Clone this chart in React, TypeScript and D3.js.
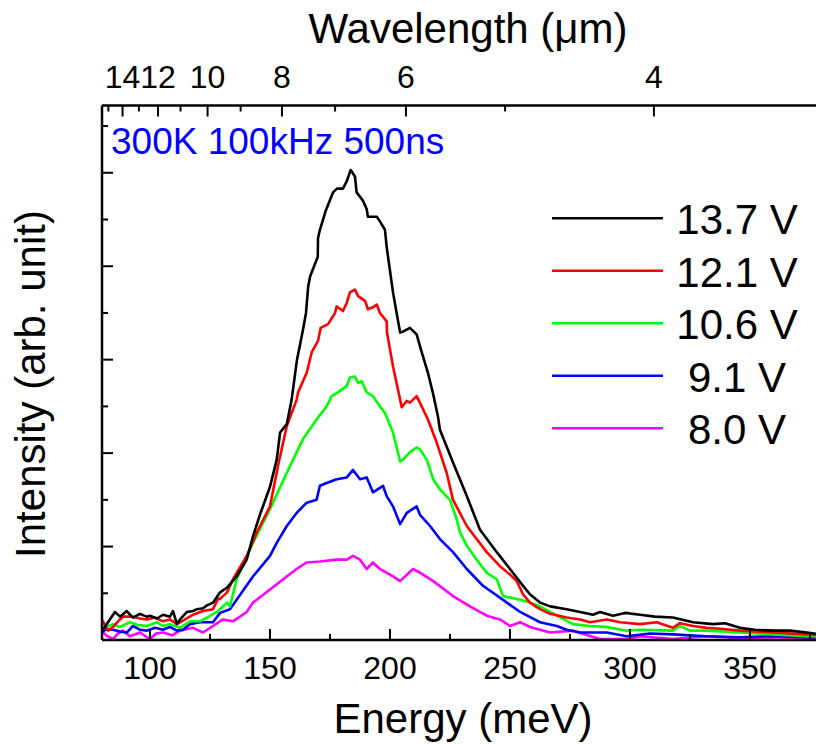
import React from 'react';
import * as d3 from 'd3';

type Pt = [number, number];

const seriesLabels = ['13.7 V', '12.1 V', '10.6 V', '9.1 V', '8.0 V'];
const seriesColors = ['#000000', '#ff0000', '#00ff00', '#0000ff', '#ff00ff'];

const v137: Pt[] = [[79.6,0.08],[85.4,0.30],[87.5,0.25],[90.3,0.31],[92.9,0.24],[95.8,0.28],[98.6,0.25],[100,0.26],[102.9,0.23],[105.4,0.27],[108.3,0.25],[109.6,0.31],[111.25,0.17],[112.5,0.22],[115.4,0.30],[117.9,0.31],[119.6,0.33],[122.1,0.34],[123.75,0.37],[126.25,0.40],[129.2,0.51],[132.1,0.56],[136.1,0.68],[140.3,0.86],[142.9,1.11],[145.8,1.34],[150,1.64],[152.8,1.93],[154.2,2.22],[157,2.31],[159,2.57],[161.25,3.0],[163.75,3.32],[165,3.5],[165.9,3.78],[166.7,3.89],[169.9,4.1],[170,4.3],[170.8,4.39],[173.3,4.6],[176.25,4.79],[177.9,4.83],[180.4,4.83],[182,4.91],[183.6,5.03],[185.4,4.96],[186.1,4.79],[188.75,4.70],[190.3,4.61],[190.8,4.53],[194.5,4.53],[195.8,4.48],[197.9,4.39],[198.6,4.21],[201.25,3.72],[204.2,3.29],[205.4,3.30],[208.3,3.34],[211.1,3.27],[213.2,3.08],[215.8,2.86],[218,2.63],[220,2.39],[220.8,2.25],[226.25,1.9],[232,1.54],[237.5,1.18],[244.5,0.94],[250,0.76],[254.2,0.62],[258.3,0.49],[262.5,0.40],[266.7,0.36],[273.6,0.33],[279.2,0.30],[284.6,0.27],[287.5,0.30],[292.9,0.26],[297.9,0.29],[304.2,0.27],[310.4,0.25],[317.9,0.24],[326.25,0.19],[334.6,0.17],[339.6,0.18],[345.8,0.13],[352,0.11],[359.6,0.10],[366.7,0.10],[373.75,0.08],[379.2,0.06]];

const v121: Pt[] = [[79.6,0.17],[80.4,0.20],[82.5,0.10],[84.6,0.14],[87.5,0.22],[88.75,0.25],[92.9,0.25],[95.8,0.23],[98.75,0.22],[102.1,0.24],[105.4,0.20],[108.3,0.22],[111.25,0.17],[114.6,0.22],[117.9,0.27],[122.1,0.31],[126.25,0.33],[128.3,0.44],[129.2,0.44],[132.1,0.51],[134.6,0.65],[140.3,0.90],[144.5,1.15],[150,1.43],[153.3,1.86],[157,2.29],[161.1,2.57],[161.7,2.65],[165.3,2.86],[167.4,3.08],[170,3.20],[171.1,3.34],[174.2,3.38],[177.1,3.50],[177.8,3.57],[180.4,3.52],[182,3.61],[183.3,3.72],[185.4,3.75],[186.7,3.68],[189.6,3.63],[190.8,3.54],[192.9,3.56],[194.5,3.59],[195.8,3.50],[198.6,3.41],[198.75,3.29],[201.25,2.93],[203.3,2.68],[204.9,2.49],[207,2.56],[208.3,2.54],[211.1,2.61],[213.2,2.50],[215.8,2.36],[219.5,2.11],[223.6,1.79],[226.25,1.50],[232,1.22],[236.1,1.08],[240.3,0.94],[245.8,0.79],[250,0.70],[252.8,0.63],[255.4,0.49],[258.3,0.40],[262.5,0.33],[266.7,0.28],[273.6,0.24],[279.2,0.22],[283.3,0.19],[290.3,0.22],[295.8,0.19],[304.2,0.17],[311.1,0.19],[317.9,0.13],[320.8,0.18],[326.25,0.15],[331.9,0.13],[337.5,0.12],[345.8,0.10],[359.6,0.08],[373.75,0.06],[379.2,0.05]];

const v106: Pt[] = [[79.6,0.10],[81.7,0.14],[84.6,0.17],[87.5,0.14],[91.7,0.19],[95,0.16],[98.75,0.15],[102.9,0.19],[105.4,0.15],[108.3,0.17],[112.5,0.13],[116.7,0.20],[120.8,0.20],[123.75,0.24],[127.9,0.30],[132.1,0.40],[133.3,0.36],[136.1,0.65],[142.9,1.04],[150,1.40],[157,1.79],[163.75,2.15],[169.4,2.36],[173.6,2.50],[175.7,2.61],[178.3,2.65],[182,2.72],[183.3,2.81],[185.4,2.82],[186.7,2.75],[188.2,2.77],[190.3,2.65],[192.9,2.61],[195.8,2.50],[197.9,2.43],[201.25,2.22],[204.2,1.91],[205.4,1.93],[208.3,2.01],[211.1,2.06],[212.5,2.04],[215.3,1.93],[218,1.72],[220.8,1.61],[225,1.50],[227.8,1.29],[229.2,1.15],[232,1.01],[236.1,0.86],[240.3,0.72],[244.5,0.65],[247.1,0.47],[254.2,0.43],[258.3,0.40],[262.5,0.36],[269.5,0.26],[276.25,0.17],[283.3,0.15],[290.3,0.14],[298.6,0.10],[304.2,0.11],[317.9,0.10],[320.8,0.15],[325,0.10],[331.9,0.10],[345.8,0.08],[359.6,0.06],[373.75,0.04],[379.2,0.04]];

const v91: Pt[] = [[79.5,0.08],[81.7,0.11],[84.6,0.11],[87.5,0.09],[90.3,0.08],[92.9,0.15],[95.8,0.11],[98.6,0.10],[102.1,0.13],[105.4,0.11],[108.3,0.14],[111.25,0.10],[113.75,0.11],[116.7,0.17],[120.8,0.19],[126.25,0.19],[129.2,0.29],[133.3,0.33],[136.1,0.43],[142.9,0.68],[150,0.90],[152.8,1.04],[157,1.22],[161.1,1.36],[165.3,1.47],[169.4,1.50],[170.8,1.65],[173.6,1.68],[177.8,1.72],[182,1.74],[184.6,1.82],[187.5,1.72],[190.3,1.74],[192.9,1.58],[197.1,1.65],[198.6,1.54],[201.25,1.43],[204.2,1.24],[207,1.36],[211.1,1.43],[212.5,1.34],[216.7,1.22],[220.8,1.08],[226.25,0.94],[232,0.76],[238.75,0.58],[247.1,0.43],[254.2,0.30],[262.5,0.19],[269.5,0.15],[273.6,0.11],[279.2,0.08],[290.3,0.08],[298.6,0.04],[308.3,0.07],[317.9,0.06],[331.9,0.04],[345.8,0.03],[359.6,0.04],[373.75,0.03],[379.2,0.03]];

const v80: Pt[] = [[79.5,0.11],[81.7,0.05],[84.6,0.01],[86.7,0.07],[88.75,0.10],[91.7,0.04],[95.8,0.08],[100,0.01],[102.5,0.07],[105.4,0.08],[109.2,0.05],[112.5,0.10],[117.9,0.13],[122.1,0.08],[126.25,0.15],[130.4,0.22],[134.6,0.20],[140.3,0.30],[142.9,0.40],[150,0.54],[157,0.68],[161.1,0.76],[165.3,0.83],[170.8,0.84],[177.8,0.86],[182,0.86],[184.6,0.90],[187.5,0.86],[190.3,0.76],[192.9,0.83],[195.8,0.76],[201.25,0.68],[204.2,0.63],[209.6,0.76],[212.5,0.72],[218,0.63],[226.25,0.47],[233.3,0.36],[240.3,0.26],[245.8,0.22],[250,0.15],[254.2,0.19],[258.3,0.14],[266.7,0.08],[276.25,0.10],[287.5,0.01],[298.6,0.01],[304.2,0.04],[317.9,0.01],[331.9,0.04],[345.8,0.02],[359.6,0.03],[373.75,0.02],[379.2,0.02]];

const seriesData: Pt[][] = [v137, v121, v106, v91, v80];

const energyTicks = [100, 150, 200, 250, 300, 350];
const energyMinor = [125, 175, 225, 275, 325, 375];
const wlTicks = [4, 6, 8, 10, 12, 14];
const wlMinor = [5, 7, 9, 11, 13, 15];
const yMajor = [1, 2, 3, 4, 5];
const yMinor = [0.5, 1.5, 2.5, 3.5, 4.5, 5.5];

const FONT = '"Liberation Sans", Arial, Helvetica, sans-serif';

export default function App() {
  const W = 816, H = 744;
  const x = d3.scaleLinear().domain([80, 380]).range([102, 822]);
  const y = d3.scaleLinear().domain([0, 5.72]).range([640, 105.5]);
  const line = d3.line<Pt>().x(d => x(d[0])).y(d => y(d[1]));
  const wlToX = (l: number) => x(1239.84 / l);
  const [x0, x1] = x.range();
  const [yb, yt] = y.range();
  const legendY = d3.scaleLinear().domain([0, 4]).range([218.3, 428.3]);

  return (
    <svg width={W} height={H} style={{ position: 'absolute', left: 0, top: 0, background: '#fff' }} fontFamily={FONT}>
      <defs>
        <clipPath id="plotClip">
          <rect x={x0} y={yt} width={x1 - x0} height={yb - yt} />
        </clipPath>
      </defs>
      <g clipPath="url(#plotClip)">
        {seriesData.map((d, i) => i).reverse().map(i => (
          <path key={i} d={line(seriesData[i]) || ''} fill="none" stroke={seriesColors[i]} strokeWidth={2.6} strokeLinejoin="round" />
        ))}
      </g>
      {/* axes frame */}
      <g stroke="#000" strokeWidth={2.5} fill="none">
        <line x1={x0} y1={yb} x2={x1} y2={yb} />
        <line x1={x0} y1={yt} x2={x1} y2={yt} />
        <line x1={x0} y1={yt} x2={x0} y2={yb} />
        <line x1={x1} y1={yt} x2={x1} y2={yb} />
      </g>
      {/* bottom ticks */}
      <g stroke="#000" strokeWidth={2}>
        {energyTicks.map(t => <line key={'bm' + t} x1={x(t)} x2={x(t)} y1={yb} y2={yb - 11} />)}
        {energyMinor.map(t => <line key={'bn' + t} x1={x(t)} x2={x(t)} y1={yb} y2={yb - 6} />)}
        {wlTicks.map(t => <line key={'tm' + t} x1={wlToX(t)} x2={wlToX(t)} y1={yt} y2={yt + 11} />)}
        {wlMinor.map(t => <line key={'tn' + t} x1={wlToX(t)} x2={wlToX(t)} y1={yt} y2={yt + 6} />)}
        {yMajor.map(t => <line key={'ym' + t} x1={x0} x2={x0 + 11} y1={y(t)} y2={y(t)} />)}
        {yMinor.map(t => <line key={'yn' + t} x1={x0} x2={x0 + 6} y1={y(t)} y2={y(t)} />)}
      </g>
      <g fontSize={32} textAnchor="middle" fill="#000">
        {energyTicks.map(t => <text key={'bl' + t} x={x(t)} y={679}>{t}</text>)}
        {wlTicks.map(t => <text key={'tl' + t} x={wlToX(t)} y={88}>{t}</text>)}
      </g>
      <text x={463} y={733} fontSize={42} textAnchor="middle">Energy (meV)</text>
      <text x={468} y={43} fontSize={42} textAnchor="middle">Wavelength (μm)</text>
      <text transform="translate(45,384) rotate(-90)" fontSize={42} textAnchor="middle">Intensity (arb. unit)</text>
      <text x={111} y={154} fontSize={37} fill="#0000ff">300K 100kHz 500ns</text>
      {/* legend */}
      {seriesLabels.map((lab, i) => (
        <g key={lab}>
          <line x1={552} x2={663} y1={legendY(i)} y2={legendY(i)} stroke={seriesColors[i]} strokeWidth={2.6} />
          <text x={737} y={legendY(i) + 15.7} fontSize={42} textAnchor="middle">{lab}</text>
        </g>
      ))}
    </svg>
  );
}
